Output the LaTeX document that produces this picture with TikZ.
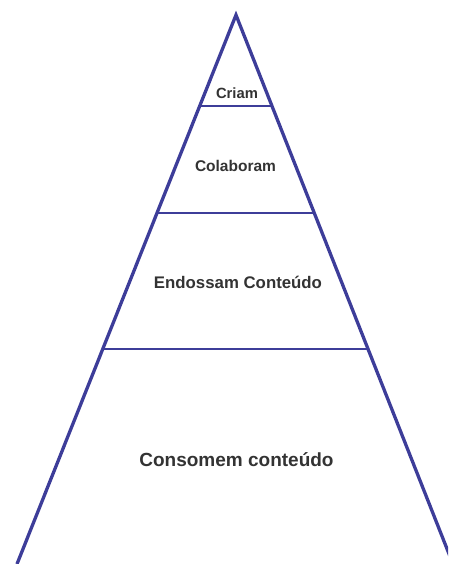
\documentclass[tikz,border=0pt]{standalone}
\usepackage{fontspec}
\setmainfont{Liberation Sans}
\usetikzlibrary{calc}
\definecolor{pyrblue}{HTML}{3D3D99}
\definecolor{txtgray}{HTML}{333333}
\begin{document}
\begin{tikzpicture}[x=1pt,y=-1pt,
  edge/.style={draw=pyrblue,line width=3.3pt,line join=miter},
  tier/.style={draw=pyrblue,line width=2.7pt},
  lbl/.style={text=txtgray,font=\bfseries,inner sep=0pt}]
\useasboundingbox (0,0) rectangle (448,564);
\clip (0,0) rectangle (448,564);
\coordinate (apex) at (236,15);
\coordinate (bl) at (17,564);
\coordinate (br) at (453,564);
\coordinate (l1) at ($(apex)!0.1658!(bl)$);
\coordinate (r1) at ($(apex)!0.1658!(br)$);
\coordinate (l2) at ($(apex)!0.3607!(bl)$);
\coordinate (r2) at ($(apex)!0.3607!(br)$);
\coordinate (l3) at ($(apex)!0.6084!(bl)$);
\coordinate (r3) at ($(apex)!0.6084!(br)$);
\draw[edge] (bl) -- (apex) -- (br);
\draw[tier] (l1) -- (r1);
\draw[tier] (l2) -- (r2);
\draw[tier] (l3) -- (r3);
\node[lbl,font=\fontsize{14.8}{16}\selectfont\bfseries] (criam) at (237,93.5) {Criam};
\node[lbl,font=\fontsize{15.5}{17}\selectfont\bfseries] (colab) at (235.5,166) {Colaboram};
\node[lbl,font=\fontsize{16.8}{19}\selectfont\bfseries] (endo) at (238,282.5) {Endossam Conteúdo};
\node[lbl,font=\fontsize{19}{21}\selectfont\bfseries] (cons) at (236.5,459.5) {Consomem conteúdo};
\end{tikzpicture}
\end{document}
